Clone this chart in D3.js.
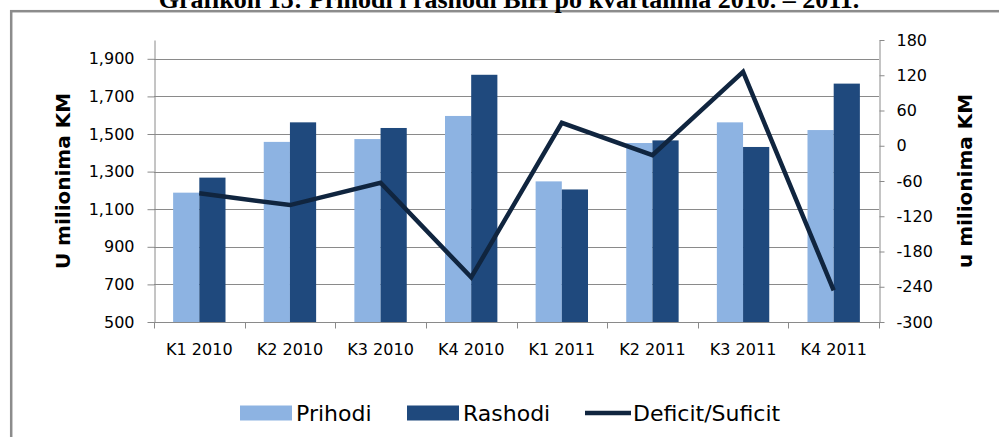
<!DOCTYPE html>
<html>
<head>
<meta charset="utf-8">
<script src="https://cdn.jsdelivr.net/npm/d3@7"></script>
<style>
  html, body { margin: 0; padding: 0; background: #fff; }
  svg { display: block; }
</style>
</head>
<body>
<svg id="chart" width="999" height="437"></svg>
<script>
// ---- data ----
const categories = ["K1 2010", "K2 2010", "K3 2010", "K4 2010", "K1 2011", "K2 2011", "K3 2011", "K4 2011"];
const prihodi = [1188, 1458, 1473, 1596, 1248, 1452, 1562, 1521];
const rashodi = [1268, 1562, 1532, 1815, 1205, 1466, 1431, 1768];
const deficit = [-81, -101, -63, -224, 39, -16, 126, -246];
const seriesNames = ["Prihodi", "Rashodi", "Deficit/Suficit"];
const leftTicks = [500, 700, 900, 1100, 1300, 1500, 1700, 1900];
const rightTicks = [-300, -240, -180, -120, -60, 0, 60, 120, 180];
const leftDomain = [500, 2000];
const rightDomain = [-300, 180];
const titleText = "Grafikon 15: Prihodi i rashodi BiH po kvartalima 2010. – 2011.";
const leftTitle = "U milionima KM";
const rightTitle = "u milionima KM";

// ---- styles ----
const C_PRI = "#8db3e2", C_RAS = "#1f497d", C_LINE = "#10253f", C_GRID = "#8a8a8a";
const FONT = "'DejaVu Sans', sans-serif";

const svg = d3.select("#chart");
const plot = { left: 154, right: 879, top: 40, bottom: 322 };

// frame
svg.append("rect").attr("x", 11.2).attr("y", 11.2).attr("width", 1100).attr("height", 600)
  .attr("fill", "none").attr("stroke", "#8c8c8c").attr("stroke-width", 2.5);

// title (partially clipped at the top, as in the reference)
svg.append("text").attr("x", 509).attr("y", 7.5).attr("text-anchor", "middle")
  .attr("font-family", "'Liberation Serif', 'Times New Roman', serif").attr("font-weight", "bold")
  .attr("font-size", 26).attr("fill", "#000").text(titleText);

const x = d3.scaleBand().domain(categories).range([plot.left, plot.right]).paddingInner(0).paddingOuter(0);
const xs = d3.scaleBand().domain(["Prihodi", "Rashodi"]).range([0, x.bandwidth()]).paddingInner(0).paddingOuter(0.73);
const yL = d3.scaleLinear().domain(leftDomain).range([plot.bottom, plot.top]);
const yR = d3.scaleLinear().domain(rightDomain).range([plot.bottom, plot.top]);

// gridlines
svg.append("g").selectAll("line").data(leftTicks.slice(1)).join("line")
  .attr("x1", plot.left).attr("x2", plot.right)
  .attr("y1", d => Math.round(yL(d)) + 0.5).attr("y2", d => Math.round(yL(d)) + 0.5)
  .attr("stroke", C_GRID).attr("stroke-width", 1);

// bars
const gBars = svg.append("g");
gBars.selectAll("rect.p").data(categories).join("rect").attr("class", "p")
  .attr("x", d => x(d) + xs("Prihodi")).attr("width", xs.bandwidth())
  .attr("y", (d, i) => yL(prihodi[i])).attr("height", (d, i) => yL(leftDomain[0]) - yL(prihodi[i]))
  .attr("fill", C_PRI);
gBars.selectAll("rect.r").data(categories).join("rect").attr("class", "r")
  .attr("x", d => x(d) + xs("Rashodi")).attr("width", xs.bandwidth())
  .attr("y", (d, i) => yL(rashodi[i])).attr("height", (d, i) => yL(leftDomain[0]) - yL(rashodi[i]))
  .attr("fill", C_RAS);

// left axis
const axL = svg.append("g").attr("transform", `translate(${plot.left + 0.5},0)`)
  .call(d3.axisLeft(yL).tickValues(leftTicks).tickFormat(d3.format(",")).tickSize(7).tickSizeOuter(0).tickPadding(13));
// right axis (plain hyphen minus, as in the reference)
const axR = svg.append("g").attr("transform", `translate(${plot.right + 0.5},0)`)
  .call(d3.axisRight(yR).tickValues(rightTicks).tickFormat(d => String(d)).tickSize(5).tickSizeOuter(0).tickPadding(12));
[axL, axR].forEach(a => {
  a.select(".domain").attr("stroke", C_GRID);
  a.selectAll(".tick line").attr("stroke", C_GRID);
  a.selectAll("text").attr("font-family", FONT).attr("font-size", 16).attr("fill", "#000");
});

// x axis
const bottomY = Math.round(yL(leftDomain[0])) + 0.5;
svg.append("line").attr("x1", plot.left).attr("x2", plot.right + 1).attr("y1", bottomY).attr("y2", bottomY)
  .attr("stroke", C_GRID);
const bounds = categories.map(c => x(c)).concat([plot.right]);
svg.append("g").selectAll("line").data(bounds).join("line")
  .attr("x1", d => Math.round(d) + 0.5).attr("x2", d => Math.round(d) + 0.5)
  .attr("y1", bottomY).attr("y2", bottomY + 6).attr("stroke", C_GRID);
const axB = svg.append("g").attr("transform", `translate(0,${bottomY})`)
  .call(d3.axisBottom(x).tickSize(0).tickPadding(21));
axB.select(".domain").remove();
axB.selectAll("text").attr("font-family", FONT).attr("font-size", 16).attr("fill", "#000");

// line
const line = d3.line().x((d, i) => x(categories[i]) + x.bandwidth() / 2).y(d => yR(d));
svg.append("path").datum(deficit).attr("d", line).attr("fill", "none")
  .attr("stroke", C_LINE).attr("stroke-width", 4.5).attr("stroke-linejoin", "miter");

// axis titles
svg.append("text").attr("transform", "translate(63,181) rotate(-90)")
  .attr("text-anchor", "middle").attr("dominant-baseline", "central")
  .attr("font-family", FONT).attr("font-weight", "bold").attr("font-size", 20).text(leftTitle);
svg.append("text").attr("transform", "translate(965,181) rotate(-90)")
  .attr("text-anchor", "middle").attr("dominant-baseline", "central")
  .attr("font-family", FONT).attr("font-weight", "bold").attr("font-size", 20).text(rightTitle);

// legend
const leg = svg.append("g").attr("font-family", FONT).attr("font-size", 22);
const legY = 413;
const legItems = [
  { name: seriesNames[0], x: 240, type: "rect", color: C_PRI },
  { name: seriesNames[1], x: 407, type: "rect", color: C_RAS },
  { name: seriesNames[2], x: 585, type: "line", color: C_LINE }
];
legItems.forEach(it => {
  if (it.type === "rect") {
    leg.append("rect").attr("x", it.x).attr("y", legY - 7.5).attr("width", 52).attr("height", 15).attr("fill", it.color);
  } else {
    leg.append("line").attr("x1", it.x).attr("x2", it.x + 46).attr("y1", legY).attr("y2", legY)
      .attr("stroke", it.color).attr("stroke-width", 4.5);
  }
  leg.append("text").attr("x", it.x + (it.type === "rect" ? 56 : 48)).attr("y", legY)
    .attr("dominant-baseline", "central").attr("fill", "#000").text(it.name);
});
</script>
</body>
</html>
